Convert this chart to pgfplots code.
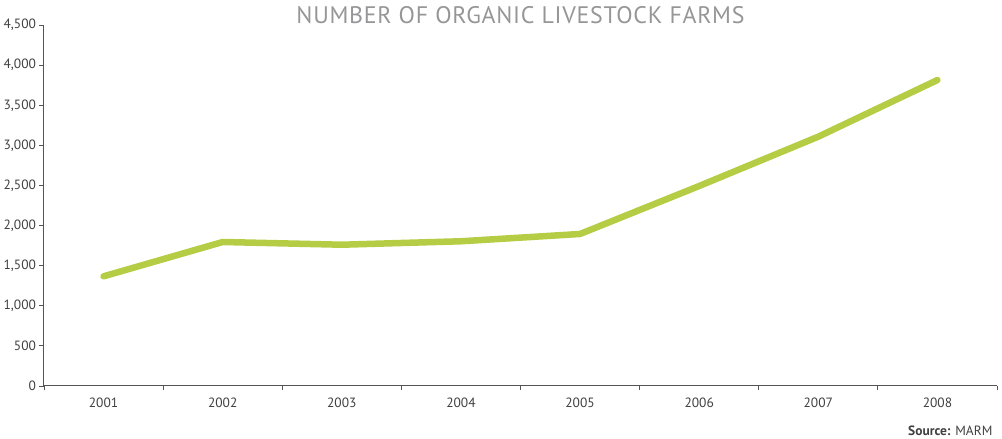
\documentclass[border=0pt]{standalone}
\usepackage{pgfplots}
\pgfplotsset{compat=1.18}
\usetikzlibrary{calc}
\usepackage{fontspec}
\setmainfont{PT Sans}
\newfontfamily\titlefont[LetterSpace=3]{PT Sans}
\definecolor{farmgreen}{RGB}{181,204,69}
\definecolor{titlegrey}{RGB}{150,150,152}
\definecolor{labelgrey}{RGB}{64,64,66}
\definecolor{axisgrey}{RGB}{85,85,87}
\begin{document}
\begin{tikzpicture}[x=1bp,y=1bp]
\useasboundingbox (-44,-53) rectangle (958,386);
\begin{axis}[
  name=farms,
  at={(0,0)}, anchor=south west,
  width=953bp, height=361bp, scale only axis,
  xmin=0.5, xmax=8.5,
  ymin=0, ymax=4500,
  axis lines*=left,
  axis line style={axisgrey, line width=1bp},
  xtick={0.5,1.5,...,8.5},
  xticklabels={2001,2002,2003,2004,2005,2006,2007,2008},
  x tick label as interval,
  ytick={0,500,...,4500},
  tick style={axisgrey, line width=0.8bp},
  tick align=outside,
  major tick length=4.5bp,
  tick label style={font=\fontsize{13.5}{13.5}\selectfont, text=labelgrey},
  xticklabel style={yshift=-4bp},
  /pgf/number format/.cd, 1000 sep={,}, assume math mode=true,
]
\addplot[farmgreen, line width=6.5bp, line cap=round, line join=round]
  coordinates {
    (1,1367) (2,1795) (3,1761) (4,1804)
    (5,1895) (6,2493) (7,3108) (8,3814)
  };
\end{axis}
% title and source line
\node[anchor=base, text=titlegrey, font=\titlefont\fontsize{24}{24}\selectfont]
  at ($(farms.north)+(0,1)$) {NUMBER OF ORGANIC LIVESTOCK FARMS};
\node[anchor=base east, text=labelgrey, font=\fontsize{13.5}{13.5}\selectfont]
  at ($(farms.south east)+(-1,-50)$) {\textbf{Source:} MARM};
\end{tikzpicture}
\end{document}
